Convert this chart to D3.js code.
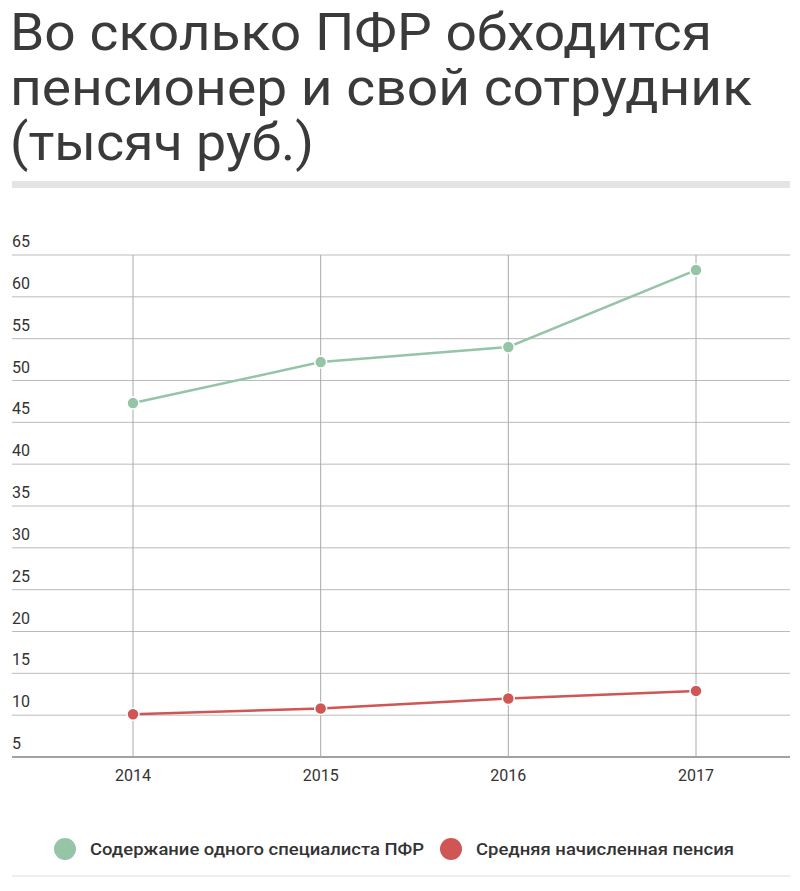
<!DOCTYPE html>
<html><head><meta charset="utf-8">
<script src="https://cdn.jsdelivr.net/npm/d3@7"></script>
<style>body{margin:0;background:#fff}</style></head>
<body><svg id="c" width="800" height="891"></svg>
<script>
const titleLines=["Во сколько ПФР обходится","пенсионер и свой сотрудник","(тысяч руб.)"];
const years=["2014","2015","2016","2017"];
const staffCost=[47.3,52.2,54.0,63.2];
const pension=[10.1,10.8,12.0,12.9];
const yTicks=[5,10,15,20,25,30,35,40,45,50,55,60,65];
const seriesNames=["Содержание одного специалиста ПФР","Средняя начисленная пенсия"];
const colors=["#95c4a6","#d05555"];

const svg=d3.select("#c");
const font="Roboto, sans-serif";
svg.selectAll("text.t").data(titleLines).join("text").attr("x",10).attr("y",(d,i)=>50+i*55)
 .attr("font-family",font).attr("font-size",52).attr("font-weight",400).attr("fill","#3a3a3a")
 .attr("textLength",(d,i)=>[702,742,304][i]).attr("lengthAdjust","spacingAndGlyphs").text(d=>d);
svg.append("rect").attr("x",12).attr("y",181).attr("width",778).attr("height",7).attr("fill","#e4e4e4");

const y=d3.scaleLinear().domain([5,65]).range([757,255]);
const x=d3.scalePoint().domain(years).range([133,696]);
const g=svg.append("g");
yTicks.forEach(t=>{
 g.append("line").attr("x1",12).attr("x2",790).attr("y1",y(t)).attr("y2",y(t)).attr("stroke",t===5?"#444":"#bbb");
 g.append("text").attr("x",12).attr("y",y(t)-8).attr("font-family",font).attr("font-size",16).attr("fill","#333").text(t);
});
years.forEach(yr=>{
 g.append("line").attr("x1",x(yr)).attr("x2",x(yr)).attr("y1",255).attr("y2",757).attr("stroke","#aaa");
 g.append("text").attr("x",x(yr)).attr("y",781).attr("text-anchor","middle").attr("font-family",font).attr("font-size",16).attr("fill","#333").text(yr);
});
[staffCost,pension].forEach((vals,si)=>{
 const pts=vals.map((v,i)=>[x(years[i]),y(v)]);
 g.append("path").attr("d",d3.line()(pts)).attr("fill","none").attr("stroke",colors[si]).attr("stroke-width",2.5);
 g.selectAll(null).data(pts).join("circle").attr("cx",d=>d[0]).attr("cy",d=>d[1]).attr("r",6)
  .attr("fill",colors[si]).attr("stroke","#fff").attr("stroke-width",1.5);
});
const lx=[65,451];
const lw=[334,258];
seriesNames.forEach((n,i)=>{
 svg.append("circle").attr("cx",lx[i]).attr("cy",849).attr("r",11).attr("fill",colors[i]);
 svg.append("text").attr("x",lx[i]+25).attr("y",855).attr("font-family",font).attr("font-size",16).attr("font-weight",500).attr("fill","#333")
  .attr("textLength",lw[i]).attr("lengthAdjust","spacingAndGlyphs").text(n);
});
svg.append("line").attr("x1",12).attr("x2",790).attr("y1",876).attr("y2",876).attr("stroke","#ddd");
</script></body></html>
